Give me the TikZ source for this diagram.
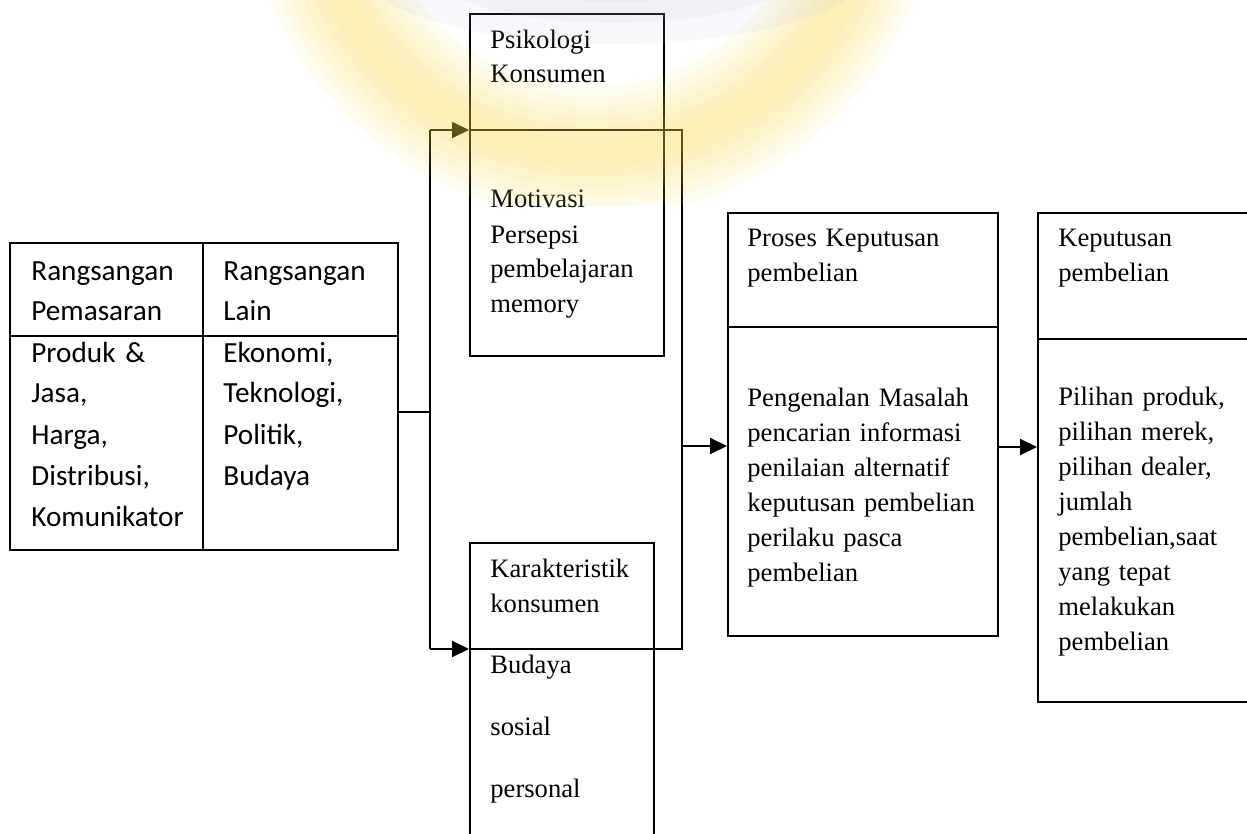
\documentclass[tikz,border=0pt]{standalone}
\usepackage{fontspec}
\setmainfont{Liberation Serif}
\newfontfamily\carlito{Carlito}
\usetikzlibrary{arrows.meta}
\definecolor{kuning}{RGB}{247,214,70}
\definecolor{abu}{RGB}{170,182,212}
\tikzset{
  kotak/.style={draw,line width=0.95pt,anchor=north west,inner sep=0pt},
  garis/.style={line width=0.95pt},
  panah/.style={line width=0.95pt,-{Triangle[length=8.5pt,width=8pt]}},
  teks/.style={anchor=base west,inner sep=0pt,align=left,text width=132pt,
    font=\fontsize{13.3}{17.5}\selectfont},
  teksc/.style={anchor=base west,inner sep=0pt,align=left,text width=90pt,
    font=\carlito\fontsize{14.6}{20.5}\selectfont},
}

\begin{document}
\begin{tikzpicture}[x=0.5pt,y=-0.5pt]
  \useasboundingbox (0,0) rectangle (1247,834);
  % kotak
  \node (tbl) [kotak,minimum width=194pt,minimum height=153.5pt] at (9,242) {};
  \node (psi) [kotak,minimum width=97pt,minimum height=171pt] at (469,13) {};
  \node (kar) [kotak,minimum width=92pt,minimum height=154pt] at (469,542) {};
  \node (pro) [kotak,minimum width=135pt,minimum height=211.5pt] at (727,212) {};
  \node (kep) [kotak,minimum width=115pt,minimum height=244.5pt] at (1037,212) {};
  \draw[garis] (203,242) -- (203,549);
  \draw[garis] (9,336) -- (397,336);
  \draw[garis] (727,327) -- (997,327);
  \draw[garis] (1037,339) -- (1267,339);
  % teks
  \node (t1) [teksc] at (31,280) {Rangsangan\\Pemasaran};
  \node (t2) [teksc] at (223,280) {Rangsangan\\Lain};
  \node (t3) [teksc] at (31,362) {Produk \&\\Jasa,\\Harga,\\Distribusi,\\Komunikator};
  \node (t4) [teksc] at (223,362) {Ekonomi,\\Teknologi,\\Politik,\\Budaya};
  \node (psi1) [teks,font=\fontsize{13.3}{17}\selectfont] at (490,49) {Psikologi\\Konsumen};
  \node (psi2) [teks] at (490,208) {Motivasi\\Persepsi\\pembelajaran\\memory};
  \node (kar1) [teks] at (490,577) {Karakteristik\\konsumen};
  \node (kar2) [teks,font=\fontsize{13.3}{31}\selectfont] at (490,673) {Budaya\\sosial\\personal};
  \node (pro1) [teks] at (747,247) {Proses Keputusan\\pembelian};
  \node (pro2) [teks] at (747,406) {Pengenalan Masalah\\pencarian informasi\\penilaian alternatif\\keputusan pembelian\\perilaku pasca\\pembelian};
  \node (kep1) [teks] at (1058,247) {Keputusan\\pembelian};
  \node (kep2) [teks] at (1058,405) {Pilihan produk,\\pilihan merek,\\pilihan dealer,\\jumlah\\pembelian,saat\\yang tepat\\melakukan\\pembelian};
  % penghubung
  \coordinate (cab) at (430,412);
  \coordinate (atas) at (430,130);
  \coordinate (bawah) at (430,649);
  \coordinate (ka) at (682,130);
  \coordinate (kb) at (682,649);
  \coordinate (jp) at (682,446);
  \coordinate (jk) at (1017,447);
  \draw[garis] (tbl.east |- cab) -- (cab);
  \draw[garis] (atas) -- (bawah);
  \draw[panah] (atas) -- (atas -| psi.west);
  \draw[panah] (bawah) -- (bawah -| kar.west);
  \draw[garis] (atas -| psi.west) -- (ka) -- (kb) -- (bawah -| kar.west);
  \draw[panah] (jp) -- (jp -| pro.west);
  \draw[panah] (jk -| pro.east) -- (jk -| kep.west);
  % latar logo (samar)
  \begin{scope}
    \clip (0,0) rectangle (1247,206);
    \foreach \w in {30,50,70,90,110,130}
      \draw[kuning,opacity=0.08,line width=\w*0.5pt] (592,-130) circle (282);
    \foreach \r in {60,90,120}
      \fill[abu,opacity=0.1] (615,-40) ellipse (\r*2.2 and \r*0.7);
  \end{scope}
\end{tikzpicture}
\end{document}
